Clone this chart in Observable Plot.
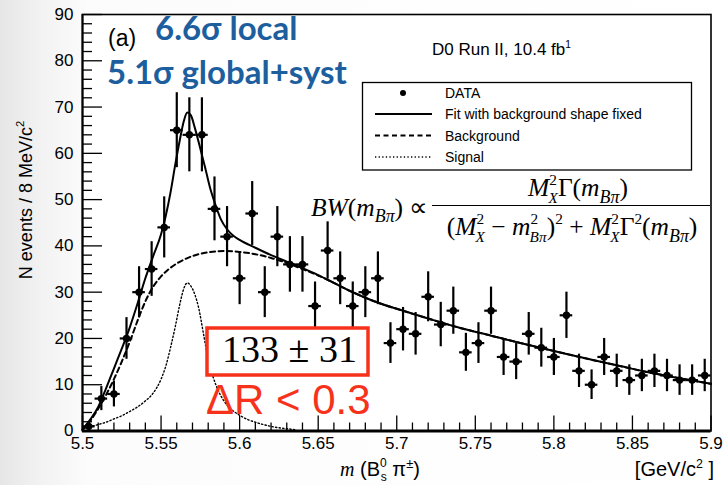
<!DOCTYPE html>
<html><head><meta charset="utf-8">
<script src="https://cdn.jsdelivr.net/npm/d3@7"></script>
<script src="https://cdn.jsdelivr.net/npm/@observablehq/plot@0.6"></script>
<style>
body{margin:0;background:linear-gradient(90deg,#e6e6e6 0px,#f2f2f2 40px,#fcfcfc 90px,#ffffff 100%);}
#wrap{position:relative;width:723px;height:485px;overflow:hidden;}
</style></head><body><div id="wrap"></div>
<script>
// ---- data ----
const binCenters = [5.504,5.512,5.520,5.528,5.536,5.544,5.552,5.560,5.568,5.576,5.584,5.592,5.600,5.608,5.616,5.624,5.632,5.640,5.648,5.656,5.664,5.672,5.680,5.688,5.696,5.704,5.712,5.720,5.728,5.736,5.744,5.752,5.760,5.768,5.776,5.784,5.792,5.800,5.808,5.816,5.824,5.832,5.840,5.848,5.856,5.864,5.872,5.880,5.888,5.896];
const counts = [1,7,8,20,30,35,44,65,64,64,48,42,33,47,30,42,36,36,27,39,33,27,30,33,19,22,21,29,23,26,17,19,26,16,15,21,18,16,25,13,10,16,13,11,12,13,12,11,11,12];
const errors = [1.0,2.6,2.8,4.5,5.5,5.9,6.6,8.1,8.0,8.0,6.9,6.5,5.7,6.9,5.5,6.5,6.0,6.0,5.2,6.2,5.7,5.2,5.5,5.7,4.4,4.7,4.6,5.4,4.8,5.1,4.1,4.4,5.1,4.0,3.9,4.6,4.2,4.0,5.0,3.6,3.2,4.0,3.6,3.3,3.5,3.6,3.5,3.3,3.3,3.5];
const binHalfWidth = 0.004;

const fitX = [5.500,5.505,5.510,5.515,5.520,5.525,5.530,5.535,5.540,5.545,5.550,5.553,5.556,5.559,5.562,5.5645,5.5667,5.569,5.5715,5.575,5.578,5.581,5.5845,5.588,5.592,5.596,5.600,5.610,5.620,5.630,5.640,5.650,5.660,5.670,5.680,5.690,5.700,5.720,5.740,5.760,5.780,5.800,5.820,5.840,5.860,5.880,5.900];
const fitY = [0.3,2.5,5.2,9.2,13.5,17.8,22.3,27.5,33.0,37.8,42.5,46.5,51.5,57.5,63.0,67.0,68.8,68.2,65.5,61.0,57.0,52.8,49.0,45.8,43.6,42.2,41.3,39.6,38.0,36.6,35.2,33.7,32.0,30.3,28.8,27.5,26.4,24.3,22.3,20.6,18.9,17.3,15.7,14.2,12.7,11.4,10.2];

const bgX = [5.500,5.505,5.510,5.515,5.520,5.525,5.530,5.535,5.540,5.545,5.550,5.555,5.560,5.565,5.570,5.575,5.580,5.590,5.600,5.610,5.620,5.630,5.640,5.650,5.660,5.670,5.680,5.690,5.700,5.720,5.740,5.760,5.780,5.800,5.820,5.840,5.860,5.880,5.900];
const bgY = [0.2,2.2,4.8,7.8,11.2,15.0,19.2,23.8,28.0,31.2,33.4,35.0,36.2,37.1,37.8,38.3,38.6,38.9,38.7,38.2,37.4,36.3,35.0,33.6,32.0,30.3,28.8,27.5,26.4,24.3,22.3,20.6,18.9,17.3,15.7,14.2,12.7,11.4,10.2];

const sigX = [5.500,5.505,5.510,5.515,5.520,5.525,5.530,5.535,5.540,5.545,5.550,5.553,5.556,5.559,5.562,5.5645,5.5667,5.569,5.5715,5.574,5.577,5.580,5.583,5.587,5.590,5.595,5.600,5.605,5.610,5.615,5.620,5.625,5.630,5.635];
const sigY = [0.4,0.9,1.4,1.9,2.6,3.3,4.2,5.2,6.5,8.2,11.2,14.0,18.0,22.5,27.5,30.8,32.0,31.3,29.5,26.5,21.0,15.5,11.8,8.3,6.5,4.6,3.4,2.5,1.9,1.4,1.0,0.7,0.5,0.3];

const xDomain = [5.5, 5.9];
const yDomain = [0, 90];
const xMajorTicks = [5.5,5.55,5.6,5.65,5.7,5.75,5.8,5.85,5.9];
const xTickLabels = ["5.5","5.55","5.6","5.65","5.7","5.75","5.8","5.85","5.9"];
const xMinorTicks = [5.51,5.52,5.53,5.54,5.56,5.57,5.58,5.59,5.61,5.62,5.63,5.64,5.66,5.67,5.68,5.69,5.71,5.72,5.73,5.74,5.76,5.77,5.78,5.79,5.81,5.82,5.83,5.84,5.86,5.87,5.88,5.89];
const yMajorTicks = [0,10,20,30,40,50,60,70,80,90];
const yTickLabels = ["0","10","20","30","40","50","60","70","80","90"];
const yMinorTicks = [2,4,6,8,12,14,16,18,22,24,26,28,32,34,36,38,42,44,46,48,52,54,56,58,62,64,66,68,72,74,76,78,82,84,86,88];

const legendLabels = ["DATA","Fit with background shape fixed","Background","Signal"];

// ---- tables ----
const points = binCenters.map((x,i)=>({x, n:counts[i], e:errors[i]}));
const fit = fitX.map((x,i)=>({x,y:fitY[i]}));
const bg = bgX.map((x,i)=>({x,y:bgY[i]}));
const sig = sigX.map((x,i)=>({x,y:sigY[i]}));

const RED = "#f7321a", BLUE = "#1d5f9e";
const SANS = "'Liberation Sans', Arial, Helvetica, sans-serif";
const SERIF = "'Liberation Serif', 'Times New Roman', serif";

const plot = Plot.plot({
  width: 723, height: 485,
  marginLeft: 82, marginRight: 12.5, marginTop: 14, marginBottom: 54.5,
  x: {domain: xDomain, label: null},
  y: {domain: yDomain, label: null},
  style: {background: "transparent", fontFamily: SANS, fontSize: "17px", color: "black", overflow: "visible"},
  marks: [
    Plot.frame({fill: "white", stroke: "none"}),
    Plot.line(sig, {x: "x", y: "y", stroke: "black", strokeWidth: 1.4, strokeDasharray: "1.3,2.3", curve: "monotone-x"}),
    Plot.line(bg, {x: "x", y: "y", stroke: "black", strokeWidth: 2, strokeDasharray: "5,3.5", curve: "monotone-x"}),
    Plot.line(fit, {x: "x", y: "y", stroke: "black", strokeWidth: 2, curve: "monotone-x"}),
    Plot.ruleX(points, {x: "x", y1: d => Math.max(0, d.n - d.e), y2: d => d.n + d.e, stroke: "black", strokeWidth: 2.2}),
    Plot.ruleY(points, {y: "n", x1: d => d.x - binHalfWidth, x2: d => d.x + binHalfWidth, stroke: "black", strokeWidth: 2.2}),
    Plot.dot(points, {x: "x", y: "n", r: 3.7, fill: "black", stroke: "none"}),
    Plot.frame({stroke: "black", strokeWidth: 1.6}),
    Plot.ruleY(yDomain.slice(0,1), {stroke: "black", strokeWidth: 3}),
    Plot.ruleX(xDomain.slice(0,1), {stroke: "black", strokeWidth: 2}),
    Plot.axisY({ticks: yMajorTicks, tickSize: -20, fill: "none", strokeWidth: 1.3, label: null}),
    Plot.axisY({ticks: yMinorTicks, tickSize: -10, fill: "none", strokeWidth: 1.3, label: null}),
    Plot.axisY({ticks: yMajorTicks, tickSize: 0, tickPadding: 9, tickFormat: d => yTickLabels[yMajorTicks.indexOf(d)], label: null}),
    Plot.axisX({ticks: xMajorTicks, tickSize: -15, fill: "none", strokeWidth: 1.3, label: null}),
    Plot.axisX({ticks: xMinorTicks, tickSize: -8, fill: "none", strokeWidth: 1.3, label: null}),
    Plot.axisX({ticks: xMajorTicks, tickSize: 0, tickPadding: 6, tickFormat: d => xTickLabels[xMajorTicks.indexOf(d)], label: null})
  ]
});
document.getElementById("wrap").appendChild(plot);

// ---- annotations ----
const svg = d3.select(plot);
const layer = svg.append("g");
function rich(x, y, parts, {size, family, anchor = "start", fill = "black", weight = null, transform = null}) {
  const t = layer.append("text").attr("x", x).attr("y", y)
    .attr("font-size", size).attr("font-family", family)
    .attr("text-anchor", anchor).attr("fill", fill);
  if (weight) t.attr("font-weight", weight);
  if (transform) t.attr("transform", transform);
  let cur = 0;
  for (const p of parts) {
    const s = p.shift || 0;
    const ts = t.append("tspan").text(p.t).attr("dy", s - cur);
    cur = s;
    if (p.it) ts.attr("font-style", "italic");
    if (p.sz) ts.attr("font-size", size * p.sz);
    if (p.dx) ts.attr("dx", p.dx);
    if (p.fam) ts.attr("font-family", p.fam);
  }
  return t;
}

// labels in plot
rich(108, 46, [{t: "(a)"}], {size: 23, family: SANS});
rich(155, 40, [{t: "6.6σ local"}], {size: 33, family: "Lato, 'Open Sans', sans-serif", fill: BLUE, weight: 700});
rich(107, 84, [{t: "5.1σ global+syst"}], {size: 33, family: "Lato, 'Open Sans', sans-serif", fill: BLUE, weight: 700});
rich(432, 55, [{t: "D0 Run II, 10.4 fb"}, {t: "1", sz: 0.6, shift: -7}], {size: 17, family: SANS});

// legend
const L = {x: 362.5, y: 82.5, w: 329, h: 87.5};
layer.append("rect").attr("x", L.x).attr("y", L.y).attr("width", L.w).attr("height", L.h)
  .attr("fill", "white").attr("stroke", "black").attr("stroke-width", 1.3);
const rowsY = [93, 114, 135.5, 157];
const dashes = [null, null, "5,3.5", "1.3,2.3"];
legendLabels.forEach((lab, i) => {
  if (i === 0) {
    layer.append("circle").attr("cx", 403).attr("cy", rowsY[i]).attr("r", 3).attr("fill", "black");
  } else {
    const ln = layer.append("line").attr("x1", 375).attr("x2", 432).attr("y1", rowsY[i]).attr("y2", rowsY[i])
      .attr("stroke", "black").attr("stroke-width", i === 3 ? 1.3 : 2);
    if (dashes[i]) ln.attr("stroke-dasharray", dashes[i]);
  }
  rich(445, rowsY[i] + 5, [{t: lab}], {size: 14, family: SANS});
});

// formula
const FS = 25.5, SUP = -11, SUB = 6.5, SS = 0.6, BK = -8.5;
rich(311, 216, [{t: "BW", it: 1}, {t: "("}, {t: "m", it: 1}, {t: "Bπ", it: 1, sz: 0.7, shift: 6}, {t: ")", shift: 0}, {t: " ∝"}], {size: FS, family: SERIF});
rich(578, 196, [{t: "M", it: 1}, {t: "2", sz: SS, shift: SUP}, {t: "X", it: 1, sz: SS, shift: SUB, dx: BK}, {t: "Γ(", shift: 0}, {t: "m", it: 1}, {t: "Bπ", it: 1, sz: 0.7, shift: SUB}, {t: ")", shift: 0}], {size: FS, family: SERIF, anchor: "middle"});
layer.append("line").attr("x1", 432).attr("x2", 710).attr("y1", 205.5).attr("y2", 205.5).attr("stroke", "black").attr("stroke-width", 1.2);
rich(572, 235, [
  {t: "("}, {t: "M", it: 1}, {t: "2", sz: SS, shift: SUP}, {t: "X", it: 1, sz: SS, shift: SUB, dx: BK},
  {t: " − ", shift: 0}, {t: "m", it: 1}, {t: "2", sz: SS, shift: SUP}, {t: "Bπ", it: 1, sz: SS, shift: SUB, dx: BK},
  {t: ")", shift: 0}, {t: "2", sz: SS, shift: SUP}, {t: " + ", shift: 0}, {t: "M", it: 1}, {t: "2", sz: SS, shift: SUP},
  {t: "X", it: 1, sz: SS, shift: SUB, dx: BK}, {t: "Γ", shift: 0}, {t: "2", sz: SS, shift: SUP}, {t: "(", shift: 0},
  {t: "m", it: 1}, {t: "Bπ", it: 1, sz: 0.7, shift: SUB}, {t: ")", shift: 0}
], {size: FS, family: SERIF, anchor: "middle"});

// red box & cut
layer.append("rect").attr("x", 207).attr("y", 328).attr("width", 161).attr("height", 47)
  .attr("fill", "white").attr("stroke", RED).attr("stroke-width", 3.5);
rich(289.5, 362, [{t: "133 ± 31"}], {size: 38, family: SERIF, anchor: "middle"});
rich(206, 414, [{t: "ΔR < 0.3"}], {size: 42, family: SANS, fill: RED});

// axis titles
rich(0, 0, [{t: "N events / 8 MeV/c"}, {t: "2", sz: 0.62, shift: -8}], {size: 18, family: SANS, anchor: "middle", transform: "translate(32,200) rotate(-90)"});
rich(380, 476, [{t: "m", it: 1, fam: SERIF}, {t: " (B"}, {t: "0", sz: 0.6, shift: -9}, {t: "s", sz: 0.6, shift: 5, dx: -6}, {t: " π", shift: 0}, {t: "±", sz: 0.65, shift: -8}, {t: ")", shift: 0}], {size: 20, family: SANS, anchor: "middle"});
rich(714, 476, [{t: "[GeV/c"}, {t: "2", sz: 0.62, shift: -8}, {t: " ]", shift: 0}], {size: 20, family: SANS, anchor: "end"});
</script></body></html>
